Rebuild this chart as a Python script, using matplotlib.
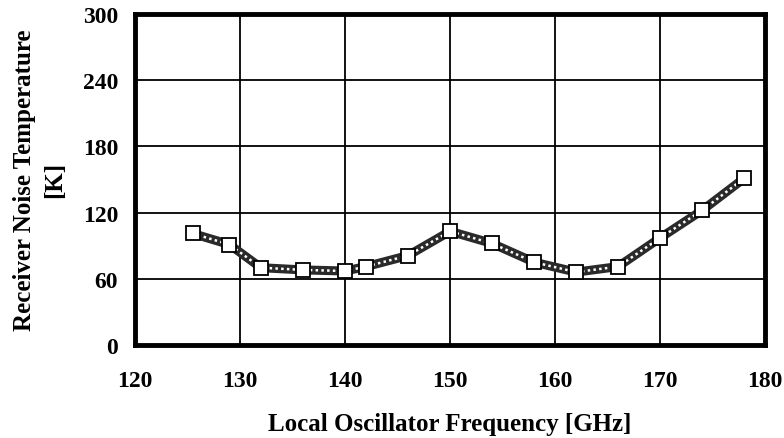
import matplotlib.pyplot as plt

# local oscillator frequency [GHz] and receiver noise temperature [K]
freq_ghz = [125.5, 129, 132, 136, 140, 142, 146, 150, 154, 158, 162, 166, 170, 174, 178]
noise_temp_k = [101, 91, 70, 68, 67, 71, 81, 103, 92, 75, 66, 71, 97, 122, 151]

x_ticks = [120, 130, 140, 150, 160, 170, 180]
y_ticks = [0, 60, 120, 180, 240, 300]


def main() -> None:
    plt.rcParams['font.family'] = ['Liberation Serif', 'DejaVu Serif']
    plt.rcParams['font.weight'] = 'bold'

    fig = plt.figure(figsize=(7.84, 4.39), dpi=100)
    ax = fig.add_axes([0.172, 0.212, 0.804, 0.754])

    # chain-like line: thick dark stroke with a dotted white core
    ax.plot(freq_ghz, noise_temp_k, color='#2a2a2a', lw=6.5, zorder=3,
            solid_capstyle='butt')
    ax.plot(freq_ghz, noise_temp_k, color='white', lw=1.8, ls=(0, (1, 1.3)),
            zorder=4)
    ax.plot(freq_ghz, noise_temp_k, ls='none', marker='s', markersize=10.5,
            markerfacecolor='white', markeredgecolor='black',
            markeredgewidth=1.3, zorder=5)

    ax.set_xlim(120, 180)
    ax.set_ylim(0, 300)
    ax.set_xticks(x_ticks)
    ax.set_yticks(y_ticks)
    ax.grid(True, color='black', lw=1.3)
    ax.set_axisbelow(True)

    for spine in ax.spines.values():
        spine.set_linewidth(3.5)

    ax.tick_params(axis='both', labelsize=17, length=0)
    ax.tick_params(axis='x', pad=18)
    ax.tick_params(axis='y', pad=12)

    ax.set_xlabel('Local Oscillator Frequency [GHz]', fontsize=18,
                  fontweight='bold', labelpad=15)
    ax.set_ylabel('Receiver Noise Temperature\n[K]', fontsize=18,
                  fontweight='bold', labelpad=12, linespacing=1.4)

    fig.savefig('out.png', dpi=100)
    plt.close(fig)


if __name__ == "__main__":
    main()
